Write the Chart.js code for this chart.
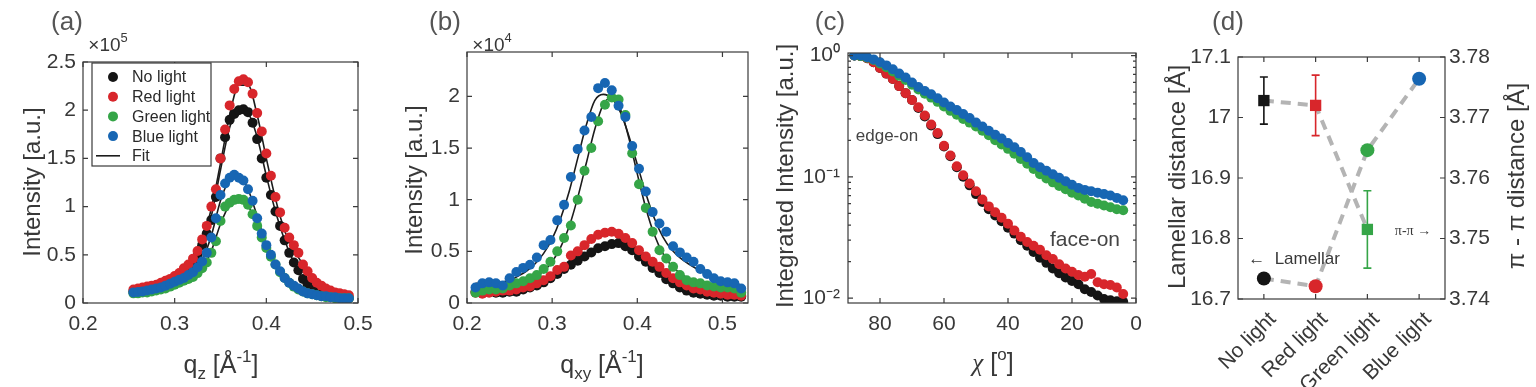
<!DOCTYPE html>
<html>
<head>
<meta charset="utf-8">
<script src="https://cdn.jsdelivr.net/npm/chart.js@4.4.1/dist/chart.umd.min.js"></script>
<style>
  body { margin: 0; background: #fff; width: 1536px; height: 387px; overflow: hidden; position: relative; }
  canvas { position: absolute; top: 0; }
</style>
</head>
<body>
<canvas id="ca" width="384" height="387" style="left:0px"></canvas>
<canvas id="cb" width="384" height="387" style="left:384px"></canvas>
<canvas id="cd" width="384" height="387" style="left:1152px"></canvas>
<canvas id="cc" width="384" height="387" style="left:768px; z-index:2"></canvas>
<script>
// ---- data ----
const seriesNames = ['No light', 'Red light', 'Green light', 'Blue light'];
const colors = ['#151515', '#d8262b', '#35a547', '#1766b3'];

// tick values shown on each axis
const aXTicks = [0.2, 0.3, 0.4, 0.5];
const aYTicks = [0, 0.5, 1, 1.5, 2, 2.5];
const bXTicks = [0.2, 0.3, 0.4, 0.5];
const bYTicks = [0, 0.5, 1, 1.5, 2];
const cXTicks = [0, 20, 40, 60, 80];
const dYTicks = [16.7, 16.8, 16.9, 17, 17.1];
const dY1Ticks = [3.74, 3.75, 3.76, 3.77, 3.78];

// (a) out-of-plane profile, intensity in units of 1e5
const qz = [0.255, 0.26, 0.265, 0.27, 0.275, 0.28, 0.285, 0.29,
  0.295, 0.30, 0.305, 0.31, 0.315, 0.32, 0.325, 0.33,
  0.335, 0.34, 0.345, 0.35, 0.355, 0.36, 0.365, 0.37,
  0.375, 0.38, 0.385, 0.39, 0.395, 0.40, 0.405, 0.41,
  0.415, 0.42, 0.425, 0.43, 0.435, 0.44, 0.445, 0.45,
  0.455, 0.46, 0.465, 0.47, 0.475, 0.48, 0.485, 0.49];
const aNo = [0.12, 0.125, 0.13, 0.14, 0.15, 0.16, 0.17, 0.19,
  0.21, 0.24, 0.27, 0.30, 0.35, 0.41, 0.49, 0.60,
  0.72, 0.86, 1.10, 1.50, 1.72, 1.90, 1.96, 2.00,
  2.01, 1.98, 1.87, 1.70, 1.50, 1.30, 1.12, 0.95,
  0.80, 0.65, 0.52, 0.42, 0.34, 0.25, 0.19, 0.14,
  0.11, 0.09, 0.08, 0.07, 0.06, 0.06, 0.05, 0.05];
const aRed = [0.14, 0.15, 0.16, 0.17, 0.18, 0.19, 0.21, 0.23,
  0.25, 0.28, 0.31, 0.36, 0.40, 0.46, 0.54, 0.66,
  0.80, 1.00, 1.18, 1.50, 1.80, 2.05, 2.22, 2.30,
  2.32, 2.29, 2.17, 1.97, 1.78, 1.55, 1.32, 1.10,
  0.94, 0.78, 0.68, 0.60, 0.52, 0.40, 0.33, 0.26,
  0.21, 0.18, 0.15, 0.13, 0.11, 0.10, 0.09, 0.08];
const aGreen = [0.10, 0.10, 0.11, 0.11, 0.12, 0.13, 0.14, 0.15,
  0.17, 0.19, 0.21, 0.23, 0.25, 0.27, 0.31, 0.36,
  0.42, 0.52, 0.64, 0.85, 1.00, 1.04, 1.07, 1.08,
  1.07, 1.02, 0.92, 0.80, 0.68, 0.57, 0.48, 0.40,
  0.32, 0.26, 0.21, 0.17, 0.14, 0.12, 0.10, 0.09,
  0.08, 0.07, 0.06, 0.06, 0.05, 0.05, 0.05, 0.05];
const aBlue = [0.11, 0.115, 0.12, 0.13, 0.14, 0.15, 0.16, 0.18,
  0.20, 0.22, 0.24, 0.26, 0.29, 0.32, 0.37, 0.43,
  0.52, 0.68, 0.88, 1.12, 1.24, 1.30, 1.33, 1.30,
  1.27, 1.18, 1.06, 0.88, 0.72, 0.60, 0.50, 0.40,
  0.33, 0.26, 0.21, 0.18, 0.15, 0.12, 0.10, 0.09,
  0.08, 0.07, 0.07, 0.06, 0.06, 0.05, 0.05, 0.05];
const qzFit = [0.26, 0.27, 0.28, 0.29, 0.30, 0.31, 0.32, 0.33, 0.34, 0.35, 0.36, 0.37,
  0.38, 0.39, 0.40, 0.41, 0.42, 0.43, 0.44, 0.45, 0.46, 0.47, 0.48, 0.49];
const aFitNo = [0.12, 0.14, 0.16, 0.20, 0.24, 0.30, 0.41, 0.58, 0.90, 1.38, 1.82, 2.01,
  1.97, 1.72, 1.32, 0.95, 0.65, 0.42, 0.25, 0.14, 0.09, 0.07, 0.06, 0.05];
const aFitRed = [0.15, 0.17, 0.19, 0.23, 0.28, 0.35, 0.46, 0.65, 0.98, 1.45, 1.95, 2.26,
  2.26, 1.95, 1.50, 1.08, 0.75, 0.55, 0.40, 0.27, 0.18, 0.13, 0.10, 0.08];
const aFitGreen = [0.10, 0.11, 0.13, 0.15, 0.19, 0.23, 0.27, 0.36, 0.54, 0.82, 1.02, 1.07,
  1.01, 0.80, 0.57, 0.40, 0.26, 0.17, 0.12, 0.09, 0.07, 0.06, 0.05, 0.05];
const aFitBlue = [0.11, 0.13, 0.15, 0.18, 0.22, 0.26, 0.32, 0.44, 0.70, 1.06, 1.28, 1.32,
  1.18, 0.90, 0.60, 0.40, 0.26, 0.18, 0.12, 0.09, 0.07, 0.06, 0.05, 0.05];

// (b) in-plane profile, intensity in units of 1e4
const qxy = [0.210, 0.218, 0.226, 0.234, 0.242, 0.250, 0.258, 0.266,
  0.274, 0.282, 0.290, 0.298, 0.306, 0.314, 0.322, 0.330,
  0.338, 0.346, 0.354, 0.362, 0.370, 0.378, 0.386, 0.394,
  0.402, 0.410, 0.418, 0.426, 0.434, 0.442, 0.450, 0.458,
  0.466, 0.474, 0.482, 0.490, 0.498, 0.506, 0.514, 0.522];
const bNo = [0.11, 0.12, 0.11, 0.10, 0.10, 0.11, 0.11, 0.13,
  0.15, 0.17, 0.20, 0.24, 0.28, 0.33, 0.37, 0.41,
  0.45, 0.49, 0.53, 0.55, 0.57, 0.58, 0.55, 0.51,
  0.45, 0.40, 0.34, 0.29, 0.23, 0.19, 0.15, 0.12,
  0.10, 0.09, 0.08, 0.07, 0.07, 0.06, 0.06, 0.06];
const bRed = [0.10, 0.09, 0.10, 0.11, 0.12, 0.12, 0.13, 0.15,
  0.16, 0.19, 0.22, 0.26, 0.32, 0.35, 0.46, 0.50,
  0.56, 0.62, 0.66, 0.68, 0.69, 0.67, 0.63, 0.58,
  0.51, 0.45, 0.40, 0.35, 0.29, 0.24, 0.20, 0.17,
  0.14, 0.13, 0.11, 0.10, 0.09, 0.08, 0.08, 0.07];
const bGreen = [0.10, 0.12, 0.13, 0.13, 0.14, 0.17, 0.19, 0.21,
  0.24, 0.27, 0.33, 0.40, 0.50, 0.63, 0.75, 1.00,
  1.28, 1.50, 1.76, 1.92, 1.99, 1.97, 1.82, 1.45,
  1.15, 0.92, 0.69, 0.51, 0.43, 0.35, 0.27, 0.22,
  0.20, 0.19, 0.17, 0.16, 0.15, 0.15, 0.14, 0.10];
const bBlue = [0.15, 0.19, 0.20, 0.19, 0.17, 0.24, 0.30, 0.34,
  0.37, 0.44, 0.56, 0.61, 0.80, 0.95, 1.22, 1.49,
  1.67, 1.80, 2.08, 2.13, 2.06, 1.91, 1.80, 1.52,
  1.30, 1.08, 0.88, 0.77, 0.69, 0.55, 0.49, 0.44,
  0.40, 0.33, 0.28, 0.24, 0.21, 0.20, 0.19, 0.14];
const qxyFit = [0.21, 0.22, 0.23, 0.24, 0.25, 0.26, 0.27, 0.28,
  0.29, 0.30, 0.31, 0.32, 0.33, 0.34, 0.35, 0.36,
  0.37, 0.38, 0.39, 0.40, 0.41, 0.42, 0.43, 0.44,
  0.45, 0.46, 0.47, 0.48, 0.49, 0.50, 0.51, 0.52];
const bFitNo = [0.10, 0.10, 0.10, 0.11, 0.11, 0.12, 0.14, 0.16,
  0.19, 0.23, 0.29, 0.35, 0.41, 0.47, 0.52, 0.56,
  0.58, 0.56, 0.52, 0.45, 0.38, 0.31, 0.24, 0.18,
  0.14, 0.11, 0.09, 0.08, 0.07, 0.06, 0.06, 0.06];
const bFitRed = [0.10, 0.10, 0.11, 0.12, 0.13, 0.15, 0.17, 0.20,
  0.23, 0.28, 0.33, 0.40, 0.48, 0.56, 0.62, 0.66,
  0.67, 0.65, 0.60, 0.53, 0.46, 0.38, 0.31, 0.25,
  0.20, 0.16, 0.13, 0.11, 0.10, 0.09, 0.08, 0.08];
const bFitGreen = [0.13, 0.13, 0.14, 0.15, 0.16, 0.18, 0.21, 0.25,
  0.31, 0.40, 0.54, 0.74, 1.02, 1.35, 1.68, 1.92,
  1.99, 1.88, 1.60, 1.25, 0.92, 0.66, 0.48, 0.36,
  0.29, 0.24, 0.21, 0.19, 0.17, 0.16, 0.15, 0.14];
const bFitBlue = [0.19, 0.19, 0.19, 0.20, 0.22, 0.26, 0.31, 0.38,
  0.48, 0.62, 0.82, 1.08, 1.40, 1.72, 1.96, 2.02,
  1.98, 1.85, 1.62, 1.34, 1.06, 0.82, 0.64, 0.52,
  0.44, 0.38, 0.33, 0.28, 0.24, 0.21, 0.19, 0.18];

// (c) pole figures, normalised integrated intensity
const chi = [88, 86, 84, 82, 80, 78, 76, 74,
  72, 70, 68, 66, 64, 62, 60, 58,
  56, 54, 52, 50, 48, 46, 44, 42,
  40, 38, 36, 34, 32, 30, 28, 26,
  24, 22, 20, 18, 16, 14, 12, 10,
  8, 6, 4];
const cNo = [1.00, 0.99, 0.95, 0.88, 0.79, 0.71, 0.64, 0.56,
  0.49, 0.43, 0.37, 0.315, 0.265, 0.225, 0.178, 0.148,
  0.12, 0.10, 0.085, 0.072, 0.062, 0.054, 0.048, 0.043,
  0.038, 0.034, 0.030, 0.027, 0.024, 0.0215, 0.0195, 0.0175,
  0.016, 0.0148, 0.0138, 0.013, 0.0118, 0.0112, 0.0105, 0.0098,
  0.0096, 0.0094, 0.0093];
const cRed = [1.00, 0.99, 0.95, 0.88, 0.79, 0.71, 0.64, 0.56,
  0.49, 0.43, 0.375, 0.32, 0.27, 0.23, 0.18, 0.15,
  0.122, 0.103, 0.088, 0.076, 0.065, 0.057, 0.051, 0.046,
  0.041, 0.036, 0.032, 0.029, 0.027, 0.025, 0.0225, 0.021,
  0.019, 0.0175, 0.0165, 0.0155, 0.015, 0.0158, 0.0135, 0.013,
  0.0128, 0.0122, 0.0108];
const cGreen = [1.00, 0.99, 0.96, 0.92, 0.86, 0.80, 0.74, 0.68,
  0.63, 0.575, 0.525, 0.485, 0.45, 0.415, 0.38, 0.35,
  0.325, 0.30, 0.28, 0.26, 0.24, 0.22, 0.20, 0.185,
  0.17, 0.155, 0.14, 0.128, 0.116, 0.105, 0.097, 0.09,
  0.084, 0.079, 0.074, 0.07, 0.066, 0.062, 0.06, 0.058,
  0.056, 0.054, 0.053];
const cBlue = [1.00, 1.00, 0.97, 0.93, 0.88, 0.83, 0.77, 0.71,
  0.66, 0.60, 0.55, 0.51, 0.48, 0.445, 0.41, 0.38,
  0.355, 0.33, 0.305, 0.28, 0.26, 0.24, 0.222, 0.207,
  0.19, 0.175, 0.16, 0.145, 0.13, 0.12, 0.112, 0.105,
  0.098, 0.092, 0.086, 0.081, 0.078, 0.076, 0.074, 0.072,
  0.07, 0.067, 0.064];

// (d) peak positions
const lamellar = [17.028, 17.02, 16.815, null];
const lamellarErr = [0.039, 0.05, 0.064, null];
const piPi = [3.7434, 3.7421, 3.7646, 3.7764];

// ---- helpers ----
const FONT = "'Liberation Sans', Arial, Helvetica, sans-serif";
const SERIF = "'Liberation Serif', 'Times New Roman', serif";
const TXT = '#383838';
Chart.defaults.font.family = FONT;
Chart.defaults.color = TXT;

const toXY = (xs, ys) => xs.map((x, i) => ({x: x, y: ys[i]}));
const fmt = v => String(Math.round(v * 1000) / 1000);

function dots(label, xs, ys, color, order) {
  return {label: label, data: toXY(xs, ys), showLine: false, order: order,
    pointRadius: 5, pointBackgroundColor: color, pointBorderColor: color, pointBorderWidth: 0};
}
function fitLine(xs, ys) {
  return {label: 'Fit', data: toXY(xs, ys), showLine: true, order: 10, pointRadius: 0,
    borderColor: '#1c1c1c', borderWidth: 1.6, cubicInterpolationMode: 'monotone'};
}
const useTicks = list => s => { s.ticks = list.map(v => ({value: v})); };
const mantissa = v => v / Math.pow(10, Math.floor(Math.log10(v) + 1e-9));
const supMap = {'0': '\u2070', '1': '\u00b9', '2': '\u00b2', '-': '\u207b'};

function rich(ctx, it) {
  const size = it.size;
  ctx.save();
  ctx.translate(it.x, it.y);
  if (it.rot) ctx.rotate(it.rot);
  ctx.fillStyle = it.color || TXT;
  ctx.textAlign = 'left';
  ctx.textBaseline = 'alphabetic';
  const segs = it.parts.map(p => {
    const kind = p[1] || 0;
    const s = kind ? size * 0.68 : size;
    return {text: p[0], kind: kind, font: (p[2] ? p[2] + ' ' : '') + s + 'px ' + (p[3] || FONT)};
  });
  let w = 0;
  segs.forEach(s => { ctx.font = s.font; s.w = ctx.measureText(s.text).width; w += s.w; });
  let x = -w / 2;
  segs.forEach(s => {
    ctx.font = s.font;
    const dy = s.kind === 1 ? -0.45 * size : (s.kind === -1 ? 0.22 * size : 0);
    ctx.fillText(s.text, x, 0.36 * size + dy);
    x += s.w;
  });
  ctx.restore();
}

function notes(items) {
  return {id: 'notes', afterDraw(chart) { items.forEach(it => rich(chart.ctx, it)); }};
}

// box with inward tick marks, like the original axes
function frame(sides) {
  return {
    id: 'frame',
    afterDatasetsDraw(chart) {
      const ctx = chart.ctx, a = chart.chartArea;
      ctx.save();
      ctx.strokeStyle = '#3a3a3a';
      ctx.lineWidth = 1.2;
      ctx.strokeRect(a.left, a.top, a.right - a.left, a.bottom - a.top);
      ctx.beginPath();
      const xs = chart.scales.x;
      xs.ticks.forEach((t, i) => {
        const p = xs.getPixelForTick(i);
        ctx.moveTo(p, a.bottom); ctx.lineTo(p, a.bottom - 5);
        ctx.moveTo(p, a.top); ctx.lineTo(p, a.top + 5);
      });
      sides.forEach(sd => {
        const sc = chart.scales[sd[0]];
        const x0 = sd[1] === 'left' ? a.left : a.right;
        const dir = sd[1] === 'left' ? 1 : -1;
        sc.ticks.forEach((t, i) => {
          const p = sc.getPixelForTick(i);
          let len = 5;
          if (sc.type === 'logarithmic' && Math.abs(mantissa(t.value) - 1) > 1e-6) len = 3;
          ctx.moveTo(x0, p); ctx.lineTo(x0 + dir * len, p);
        });
      });
      ctx.stroke();
      ctx.restore();
    }
  };
}

function baseOptions(top, right) {
  return {
    responsive: false, animation: false, events: [],
    layout: {padding: {top: top, right: right, left: 0, bottom: 0}},
    plugins: {legend: {display: false}, tooltip: {enabled: false}}
  };
}
function axisStyle(extra) {
  return Object.assign({
    grid: {display: false, drawTicks: false},
    border: {display: false}
  }, extra);
}

// ---- (a) ----
const legendA = {
  id: 'legendA',
  afterDraw(chart) {
    const ctx = chart.ctx;
    ctx.save();
    ctx.fillStyle = '#fff';
    ctx.fillRect(92, 63, 119, 103);
    ctx.strokeStyle = '#3a3a3a';
    ctx.lineWidth = 1.2;
    ctx.strokeRect(92, 63, 119, 103);
    ctx.font = '16px ' + FONT;
    ctx.textBaseline = 'middle';
    seriesNames.forEach((n, i) => {
      const y = 77 + i * 19.7;
      ctx.beginPath();
      ctx.arc(113, y, 5, 0, Math.PI * 2);
      ctx.fillStyle = colors[i];
      ctx.fill();
      ctx.fillStyle = '#2a2a2a';
      ctx.fillText(n, 132, y + 1);
    });
    const fy = 77 + 4 * 19.7;
    ctx.strokeStyle = '#1c1c1c';
    ctx.lineWidth = 1.6;
    ctx.beginPath(); ctx.moveTo(96, fy); ctx.lineTo(120, fy); ctx.stroke();
    ctx.fillStyle = '#2a2a2a';
    ctx.fillText('Fit', 132, fy + 1);
    ctx.restore();
  }
};

new Chart(document.getElementById('ca'), {
  type: 'scatter',
  data: {datasets: [
    dots(seriesNames[0], qz, aNo, colors[0], 4),
    dots(seriesNames[1], qz, aRed, colors[1], 3),
    dots(seriesNames[2], qz, aGreen, colors[2], 2),
    dots(seriesNames[3], qz, aBlue, colors[3], 1),
    fitLine(qzFit, aFitNo), fitLine(qzFit, aFitRed), fitLine(qzFit, aFitGreen), fitLine(qzFit, aFitBlue)
  ]},
  options: Object.assign(baseOptions(62, 26), {
    scales: {
      x: axisStyle({type: 'linear', min: 0.2, max: 0.5, afterBuildTicks: useTicks(aXTicks),
        afterFit: s => { s.height = 84; },
        ticks: {font: {size: 21}, padding: 9, maxRotation: 0, autoSkip: false, callback: fmt}}),
      y: axisStyle({min: 0, max: 2.5, afterBuildTicks: useTicks(aYTicks),
        afterFit: s => { s.width = 83; },
        ticks: {font: {size: 21}, padding: 7, autoSkip: false, callback: fmt}})
    }
  }),
  plugins: [frame([['y', 'left'], ['y', 'right']]), legendA, notes([
    {parts: [['(a)']], x: 67, y: 21, size: 26, color: '#555'},
    {parts: [['\u00d710'], ['5', 1]], x: 108, y: 44, size: 19},
    {parts: [['Intensity [a.u.]']], x: 31, y: 182, size: 24, rot: -Math.PI / 2},
    {parts: [['q'], ['z', -1], [' [\u00c5'], ['-1', 1], [']']], x: 221, y: 364, size: 25}
  ])]
});

// ---- (b) ----
new Chart(document.getElementById('cb'), {
  type: 'scatter',
  data: {datasets: [
    dots(seriesNames[0], qxy, bNo, colors[0], 4),
    dots(seriesNames[1], qxy, bRed, colors[1], 3),
    dots(seriesNames[2], qxy, bGreen, colors[2], 2),
    dots(seriesNames[3], qxy, bBlue, colors[3], 1),
    fitLine(qxyFit, bFitNo), fitLine(qxyFit, bFitRed), fitLine(qxyFit, bFitGreen), fitLine(qxyFit, bFitBlue)
  ]},
  options: Object.assign(baseOptions(52, 20), {
    scales: {
      x: axisStyle({type: 'linear', min: 0.2, max: 0.53, afterBuildTicks: useTicks(bXTicks),
        afterFit: s => { s.height = 84; },
        ticks: {font: {size: 21}, padding: 9, maxRotation: 0, autoSkip: false, callback: fmt}}),
      y: axisStyle({min: 0, max: 2.43, afterBuildTicks: useTicks(bYTicks),
        afterFit: s => { s.width = 83; },
        ticks: {font: {size: 21}, padding: 7, autoSkip: false, callback: fmt}})
    }
  }),
  plugins: [frame([['y', 'left'], ['y', 'right']]), notes([
    {parts: [['(b)']], x: 61, y: 21, size: 26, color: '#555'},
    {parts: [['\u00d710'], ['4', 1]], x: 108, y: 44, size: 19},
    {parts: [['Intensity [a.u.]']], x: 29, y: 180, size: 24, rot: -Math.PI / 2},
    {parts: [['q'], ['xy', -1], [' [\u00c5'], ['-1', 1], [']']], x: 218, y: 364, size: 25}
  ])]
});

// ---- (c) ----
new Chart(document.getElementById('cc'), {
  type: 'scatter',
  data: {datasets: [
    dots(seriesNames[0], chi, cNo, colors[0], 4),
    dots(seriesNames[1], chi, cRed, colors[1], 3),
    dots(seriesNames[2], chi, cGreen, colors[2], 2),
    dots(seriesNames[3], chi, cBlue, colors[3], 1)
  ]},
  options: Object.assign(baseOptions(53, 16), {
    scales: {
      x: axisStyle({type: 'linear', min: 0, max: 90, reverse: true, afterBuildTicks: useTicks(cXTicks),
        afterFit: s => { s.height = 84; },
        ticks: {font: {size: 21}, padding: 9, maxRotation: 0, autoSkip: false, callback: fmt}}),
      y: axisStyle({type: 'logarithmic', min: 0.0091, max: 1.05,
        afterBuildTicks: s => { s.ticks = s.ticks.filter(t => Math.abs(mantissa(t.value) - Math.round(mantissa(t.value))) < 1e-6); },
        afterFit: s => { s.width = 80; },
        ticks: {font: {size: 21}, padding: 8, autoSkip: false,
          callback: v => {
            const e = Math.log10(v);
            if (Math.abs(e - Math.round(e)) > 1e-6) return '';
            return '10' + String(Math.round(e)).split('').map(c => supMap[c]).join('');
          }}})
    }
  }),
  plugins: [frame([['y', 'left'], ['y', 'right']]), notes([
    {parts: [['(c)']], x: 62, y: 21, size: 26, color: '#555'},
    {parts: [['Integrated Intensity [a.u.]']], x: 16, y: 176, size: 24, rot: -Math.PI / 2},
    {parts: [['\u03c7', 0, 'italic', SERIF], [' ['], ['o', 1], [']']], x: 225, y: 362, size: 25},
    {parts: [['edge-on']], x: 119, y: 135, size: 17, color: '#444'},
    {parts: [['face-on']], x: 317, y: 238, size: 21, color: '#444'}
  ])]
});

// ---- (d) ----
const errBars = {
  id: 'errBars',
  beforeDatasetDraw(chart, args) {
    if (args.index !== 2) return;
    const ctx = chart.ctx, xs = chart.scales.x, ys = chart.scales.y;
    ctx.save();
    ctx.lineWidth = 1.6;
    lamellar.forEach((v, i) => {
      if (v === null) return;
      const x = xs.getPixelForValue(i);
      const y1 = ys.getPixelForValue(v + lamellarErr[i]);
      const y2 = ys.getPixelForValue(v - lamellarErr[i]);
      ctx.strokeStyle = colors[i];
      ctx.beginPath();
      ctx.moveTo(x, y1); ctx.lineTo(x, y2);
      ctx.moveTo(x - 4, y1); ctx.lineTo(x + 4, y1);
      ctx.moveTo(x - 4, y2); ctx.lineTo(x + 4, y2);
      ctx.stroke();
    });
    ctx.restore();
  }
};

const dashStyle = {showLine: true, pointRadius: 0, borderColor: '#b4b4b4', borderWidth: 4, borderDash: [10, 7], order: 5};
new Chart(document.getElementById('cd'), {
  type: 'line',
  data: {
    labels: seriesNames,
    datasets: [
      Object.assign({label: 'Lamellar', data: lamellar, yAxisID: 'y'}, dashStyle),
      Object.assign({label: '\u03c0-\u03c0', data: piPi, yAxisID: 'y1'}, dashStyle),
      {label: 'Lamellar', data: lamellar, yAxisID: 'y', showLine: false, order: 1,
        pointStyle: 'rect', pointRadius: 8, pointBackgroundColor: colors, pointBorderColor: colors, pointBorderWidth: 0},
      {label: '\u03c0-\u03c0', data: piPi, yAxisID: 'y1', showLine: false, order: 1,
        pointStyle: 'circle', pointRadius: 7, pointBackgroundColor: colors, pointBorderColor: colors, pointBorderWidth: 0}
    ]
  },
  options: Object.assign(baseOptions(57, 0), {
    scales: {
      x: axisStyle({type: 'category', offset: true,
        afterFit: s => { s.height = 88; },
        ticks: {font: {size: 21}, padding: 8, labelOffset: 9, minRotation: 45, maxRotation: 45, autoSkip: false}}),
      y: axisStyle({position: 'left', min: 16.7, max: 17.1, afterBuildTicks: useTicks(dYTicks),
        afterFit: s => { s.width = 86; },
        ticks: {font: {size: 21}, padding: 7, autoSkip: false, callback: fmt}}),
      y1: axisStyle({position: 'right', min: 3.74, max: 3.78, afterBuildTicks: useTicks(dY1Ticks),
        afterFit: s => { s.width = 91; },
        ticks: {font: {size: 21}, padding: 4, autoSkip: false, callback: fmt}})
    }
  }),
  plugins: [errBars, frame([['y', 'left'], ['y1', 'right']]), notes([
    {parts: [['(d)']], x: 76, y: 21, size: 26, color: '#555'},
    {parts: [['Lamellar distance [\u00c5]']], x: 24, y: 177, size: 24, rot: -Math.PI / 2},
    {parts: [['\u03c0 - \u03c0 distance [\u00c5]']], x: 363, y: 176, size: 24, rot: -Math.PI / 2},
    {parts: [['\u2190  Lamellar']], x: 142, y: 258, size: 17},
    {parts: [['\u03c0-\u03c0 \u2192', 0, '', SERIF]], x: 261, y: 230, size: 14}
  ])]
});
</script>
</body>
</html>
